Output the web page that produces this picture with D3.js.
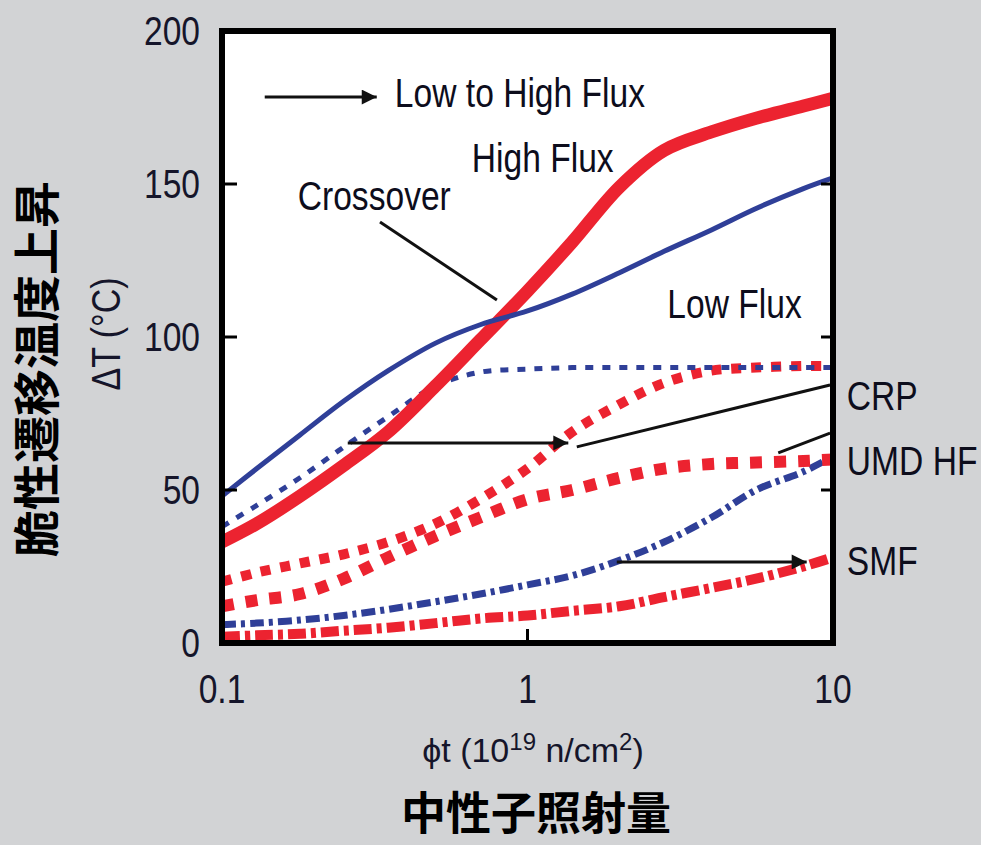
<!DOCTYPE html>
<html>
<head>
<meta charset="utf-8">
<script src="https://cdn.jsdelivr.net/npm/d3@7"></script>
<style>
  html, body { margin: 0; padding: 0; background: #d2d3d5; }
  svg { display: block; }
  .lbl { font-family: "Liberation Sans", Arial, sans-serif; }
  .cjk { font-family: "Noto Sans CJK JP", sans-serif; font-weight: 700; }
</style>
</head>
<body>
<svg id="chart" width="981" height="845"></svg>
<script>
// fluence grid (10^19 n/cm2) shared by all curves
const fluence = [0.1, 0.13, 0.18, 0.25, 0.35, 0.5, 0.7, 1, 1.4, 2, 2.8, 4, 5.6, 8, 10];

// ΔT (°C)
const highFlux   = [33, 39, 48, 58, 69, 84, 99, 115, 131, 149, 161, 167, 171.5, 175.5, 178];
const lowFlux    = [48, 57, 68, 79, 89, 98, 104, 108.5, 114, 121, 128, 135, 142, 148.5, 152];
const crpLow     = [38, 45, 54, 64, 74, 84, 88.5, 89.5, 90, 90, 90, 90, 90, 90, 90];
const crpHigh    = [20, 23, 26, 29, 33, 39, 47, 57, 69, 78, 85, 89, 90, 90.5, 90.5];
const umdHigh    = [12, 14, 16, 21, 28, 35, 41, 47, 50, 54, 57, 58.5, 59, 59.5, 60];
const smfLow     = [6, 6.5, 7.5, 9, 11, 13.5, 16, 19, 22, 27, 33, 41, 50, 56, 61];
const smfHigh    = [2, 2.5, 3, 4, 5, 6.5, 8, 9, 10.5, 12, 15, 18, 21, 25, 28];

const xTicks = [0.1, 1, 10];
const xTickLabels = ["0.1", "1", "10"];
const yTicks = [0, 50, 100, 150, 200];

const red = "#ec2330", blue = "#2f3f98", ink = "#15152a";

const series = [
  { values: smfHigh,  color: red,  width: 10, dash: "18,5,5,5" },
  { values: smfLow,   color: blue, width: 7,  dash: "14,5,4,5" },
  { values: umdHigh,  color: red,  width: 12, dash: "12,12" },
  { values: crpHigh,  color: red,  width: 10, dash: "10,10" },
  { values: crpLow,   color: blue, width: 5,  dash: "8,9" },
  { values: highFlux, color: red,  width: 13, dash: null },
  { values: lowFlux,  color: blue, width: 5,  dash: null }
];

const svg = d3.select("#chart");
const x = d3.scaleLog().domain([0.1, 10]).range([222, 833]);
const y = d3.scaleLinear().domain([0, 200]).range([643, 31]);

const defs = svg.append("defs");
defs.append("clipPath").attr("id", "plotclip")
  .append("rect")
  .attr("x", x(0.1)).attr("y", y(200))
  .attr("width", x(10) - x(0.1)).attr("height", y(0) - y(200));

defs.append("marker")
  .attr("id", "head")
  .attr("viewBox", "0 0 10 10")
  .attr("refX", 10).attr("refY", 5)
  .attr("markerWidth", 8).attr("markerHeight", 5)
  .attr("markerUnits", "strokeWidth")
  .attr("orient", "auto")
  .append("path").attr("d", "M0,0 L10,5 L0,10 Z").attr("fill", "#111");

// plot background
svg.append("rect")
  .attr("x", x(0.1)).attr("y", y(200))
  .attr("width", x(10) - x(0.1)).attr("height", y(0) - y(200))
  .attr("fill", "#fff");

const line = d3.line()
  .x((d, i) => x(fluence[i]))
  .y(d => y(d))
  .curve(d3.curveCatmullRom.alpha(0.5));

const g = svg.append("g").attr("clip-path", "url(#plotclip)");
series.forEach(s => {
  g.append("path")
    .attr("d", line(s.values))
    .attr("fill", "none")
    .attr("stroke", s.color)
    .attr("stroke-width", s.width)
    .attr("stroke-dasharray", s.dash)
    .attr("stroke-linejoin", "round");
});

// annotation lines (data coordinates)
const annot = svg.append("g").attr("stroke", "#111").attr("stroke-width", 3).attr("fill", "none");
function seg(f1, v1, f2, v2, arrow) {
  const p = annot.append("line")
    .attr("x1", x(f1)).attr("y1", y(v1))
    .attr("x2", x(f2)).attr("y2", y(v2));
  if (arrow) p.attr("marker-end", "url(#head)");
}
seg(0.138, 178.4, 0.321, 178.4, true);
seg(0.329, 137.6, 0.794, 112.1, false);
seg(0.258, 65.4, 1.36, 65.4, true);
seg(1.45, 64.1, 9.78, 84.3, false);
seg(6.62, 62.1, 9.78, 68.6, false);
seg(1.96, 26.5, 8.2, 26.5, true);

// frame
svg.append("rect")
  .attr("x", x(0.1)).attr("y", y(200))
  .attr("width", x(10) - x(0.1)).attr("height", y(0) - y(200))
  .attr("fill", "none").attr("stroke", "#000").attr("stroke-width", 6);

// inside ticks
const ticks = svg.append("g").attr("stroke", "#000").attr("stroke-width", 3);
[50, 100, 150].forEach(v => {
  ticks.append("line").attr("x1", x(0.1)).attr("x2", x(0.1) + 15).attr("y1", y(v)).attr("y2", y(v));
  ticks.append("line").attr("x1", x(10)).attr("x2", x(10) - 12).attr("y1", y(v)).attr("y2", y(v));
});
ticks.append("line").attr("x1", x(1)).attr("x2", x(1)).attr("y1", y(0)).attr("y2", y(0) - 14);

// tick labels
svg.append("g").selectAll("text").data(yTicks).join("text")
  .attr("class", "lbl narrow")
  .attr("x", 200).attr("y", d => y(d))
  .attr("dy", "0.36em")
  .attr("text-anchor", "end")
  .attr("font-size", 40).attr("fill", ink)
  .text(d => d);

svg.append("g").selectAll("text").data(xTicks).join("text")
  .attr("class", "lbl narrow")
  .attr("x", d => x(d)).attr("y", 703)
  .attr("text-anchor", "middle")
  .attr("font-size", 40).attr("fill", ink)
  .text((d, i) => xTickLabels[i]);

// axis titles
const xt = svg.append("text").attr("class", "lbl")
  .attr("x", 533).attr("y", 762).attr("text-anchor", "middle")
  .attr("font-size", 34).attr("fill", ink);
xt.append("tspan").text("ϕt (10");
xt.append("tspan").attr("dy", -12).attr("font-size", 24).text("19");
xt.append("tspan").attr("dy", 12).text(" n/cm");
xt.append("tspan").attr("dy", -12).attr("font-size", 24).text("2");
xt.append("tspan").attr("dy", 12).text(")");

// rotated unit label: condensed with textLength
const dT = svg.append("text").attr("class", "lbl")
  .attr("transform", "translate(120,334) rotate(-90)")
  .attr("text-anchor", "middle")
  .attr("font-size", 40).attr("fill", ink)
  .text("ΔT (°C)");
dT.attr("textLength", dT.node().getComputedTextLength() * 0.85).attr("lengthAdjust", "spacingAndGlyphs");

svg.append("text").attr("class", "cjk")
  .attr("x", 536).attr("y", 830).attr("text-anchor", "middle")
  .attr("font-size", 45).attr("fill", "#000")
  .text("中性子照射量");

svg.append("text").attr("class", "cjk")
  .attr("transform", "translate(54,369) rotate(-90)")
  .attr("text-anchor", "middle")
  .attr("font-size", 47).attr("fill", "#000")
  .text("脆性遷移温度上昇");

// annotation labels
const notes = [
  { t: "Low to High Flux", f: 0.368, v: 175.2 },
  { t: "High Flux", f: 0.657, v: 153.9 },
  { t: "Crossover", f: 0.177, v: 141.5 },
  { t: "Low Flux", f: 2.87, v: 106.2 },
  { t: "CRP", f: 11.1, v: 76.1 },
  { t: "UMD HF", f: 11.1, v: 54.9 },
  { t: "SMF", f: 11.1, v: 22.2 }
];
svg.append("g").selectAll("text").data(notes).join("text")
  .attr("class", "lbl narrow")
  .attr("x", d => x(d.f)).attr("y", d => y(d.v))
  .attr("font-size", 40).attr("fill", "#0d0d1c")
  .text(d => d.t);

// condensed look: no narrow face is installed, so squeeze each label
// horizontally about its own anchor point
const squeeze = 0.84;
svg.selectAll("text.narrow").each(function () {
  const x0 = +this.getAttribute("x");
  d3.select(this).attr("transform", `translate(${x0 * (1 - squeeze)},0) scale(${squeeze},1)`);
});
</script>
</body>
</html>
